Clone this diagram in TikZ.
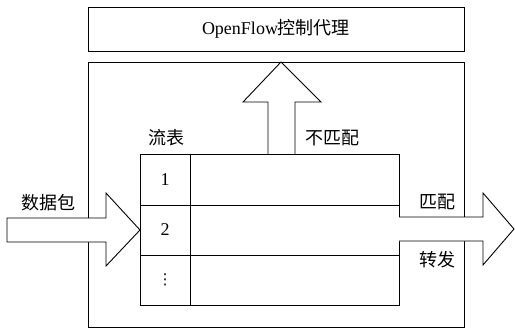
\documentclass[tikz,border=0pt]{standalone}
\usepackage{fontspec}
\setmainfont{Liberation Serif}
\newfontfamily\cjk{Noto Sans CJK SC}
\newfontfamily\symfont{DejaVu Sans}
\begin{document}
\begin{tikzpicture}[x=1pt,y=-1pt,line width=0.9pt,
  lbl/.style={font=\fontsize{18}{20}\selectfont\cjk,inner sep=0pt},
  num/.style={font=\fontsize{18}{20}\selectfont,inner sep=0pt},
  blockarrow/.style={draw,fill=white,line join=miter}]
\useasboundingbox (0,0) rectangle (515,329);
% control agent box
\node[draw,minimum width=376pt,minimum height=44pt,inner sep=0pt,
      font=\fontsize{18}{20}\selectfont] (agent) at (276,29) {OpenFlow{\cjk 控制代理}};
% switch box
\draw (88,62) rectangle (464,327);
% flow table
\draw (140,154) rectangle (399,305);
\draw (140,205) -- (399,205);
\draw (140,255) -- (399,255);
\draw (190,154) -- (190,305);
\node[num] (r1) at (165,180) {1};
\node[num] (r2) at (165,230) {2};
\node[inner sep=0pt,font=\fontsize{15}{17}\selectfont\symfont] (r3) at (165,280) {⋮};
% up arrow (no match)
\draw[blockarrow] (268,154) -- (268,102) -- (243,102) -- (281,62) -- (321,102) -- (295,102) -- (295,154);
% input arrow
\draw[blockarrow] (7,218) -- (106,218) -- (106,193) -- (140,230) -- (106,266) -- (106,242) -- (7,242) -- cycle;
% output arrow
\draw[blockarrow] (399,217) -- (483,217) -- (483,193) -- (514,229) -- (483,265) -- (483,241) -- (399,241);
% labels
\node[lbl] (ft) at (166,138) {流表};
\node[lbl] (nm) at (332,138) {不匹配};
\node[lbl] (pkt) at (48,203) {数据包};
\node[lbl] (m) at (437,202) {匹配};
\node[lbl] (fw) at (437,260) {转发};
\end{tikzpicture}
\end{document}
